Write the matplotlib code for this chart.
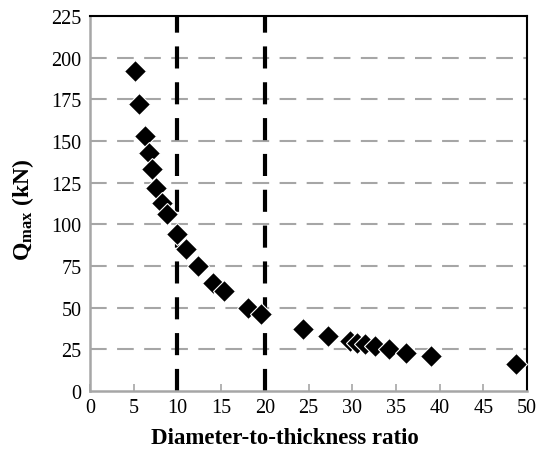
import matplotlib
matplotlib.use("Agg")
import matplotlib.pyplot as plt

ratio = [5.1, 5.6, 6.3, 6.7, 7.1, 7.6, 8.2, 8.8, 9.9, 11.0, 12.4, 14.1, 15.3,
         18.1, 19.6, 24.4, 27.2, 29.7, 30.6, 31.5, 32.6, 34.2, 36.2, 39.0, 48.7]
qmax = [192, 172, 153, 143, 133, 122, 113, 106, 94, 85, 75, 65, 60,
        50, 46, 37, 33, 30, 29, 28, 27, 25, 23, 21, 16]
vlines = [10, 20]
xticks = list(range(0, 51, 5))
yticks = list(range(0, 226, 25))

plt.rcParams['font.family'] = ['Liberation Serif', 'DejaVu Serif']
plt.rcParams['mathtext.fontset'] = 'custom'
plt.rcParams['mathtext.rm'] = 'Liberation Serif'
plt.rcParams['mathtext.bf'] = 'Liberation Serif:bold'
plt.rcParams['mathtext.it'] = 'Liberation Serif:italic'

fig = plt.figure(figsize=(5.37, 4.52), dpi=100)
ax = fig.add_axes([90/537, 1-392/452, 437/537, 375/452])

for yv in yticks[1:]:
    ax.axhline(yv, color='#a6a6a6', lw=1.5, dashes=(8, 5), zorder=1)
for xv in vlines:
    ax.axvline(xv, color='black', lw=3, dashes=(5.3, 3.3), zorder=2)

ax.plot(ratio, qmax, linestyle='none', marker='D', markersize=11.5,
        markerfacecolor='black', markeredgecolor='white', markeredgewidth=0.8,
        zorder=3, clip_on=False)

ax.set_xlim(0, 50)
ax.set_ylim(0, 225)
ax.set_xticks(xticks)
ax.set_yticks(yticks)
ax.tick_params(axis='both', direction='in', length=5, width=1.2, color='#a6a6a6',
               labelsize=14.5, pad=5)
ax.tick_params(axis='y', length=0, pad=6)

for s in ['left', 'bottom']:
    ax.spines[s].set_color('#a6a6a6')
    ax.spines[s].set_linewidth(1.8)
for s in ['top', 'right']:
    ax.spines[s].set_color('black')
    ax.spines[s].set_linewidth(1.5)

ax.set_xlabel('Diameter-to-thickness ratio', fontsize=16.5, fontweight='bold')
ax.xaxis.set_label_coords((285-90)/437, -(428-392)/375)
ax.set_ylabel(r'$\mathbf{Q_{max}}$ (kN)', fontsize=17, fontweight='bold')
ax.yaxis.set_label_coords(-(90-36)/437, 0.485)

fig.savefig('out.png', dpi=100)
